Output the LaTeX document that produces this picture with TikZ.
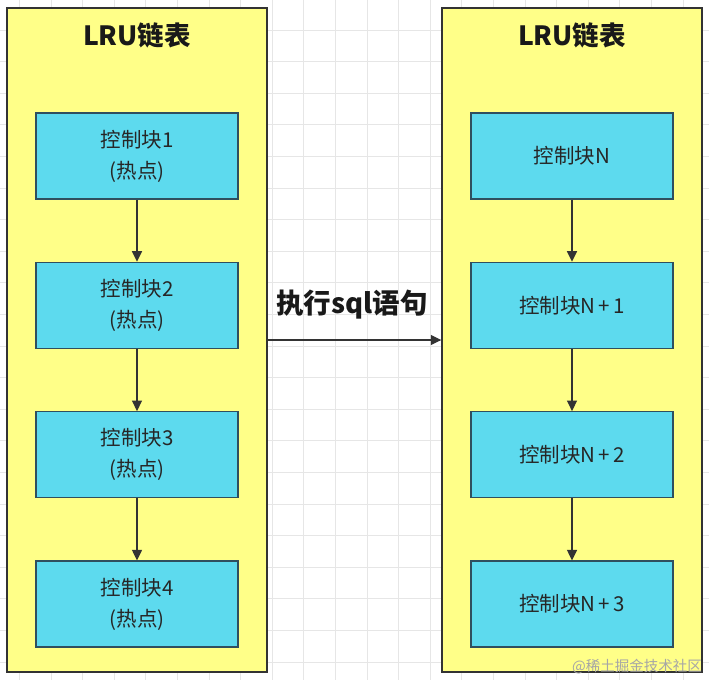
\documentclass[tikz,border=0pt]{standalone}
\usepackage{fontspec}
\newfontfamily\cjk{Noto Sans CJK SC}
\usetikzlibrary{arrows.meta}
\definecolor{cyellow}{HTML}{FFFF88}
\definecolor{ccyan}{HTML}{5DDAEE}
\definecolor{cblockline}{HTML}{2F4F5F}
\definecolor{cline}{HTML}{333333}
\definecolor{cgrid}{HTML}{E6E6E6}
\tikzset{
  gridline/.style={draw=cgrid, line width=0.9bp},
  container/.style={draw=cline, fill=cyellow, line width=1.4bp, minimum width=260bp, minimum height=664bp, inner sep=0pt},
  titletext/.style={font=\cjk\bfseries\fontsize{26.5bp}{30bp}\selectfont, text=black!90, inner sep=0pt},
  sqltext/.style={font=\cjk\bfseries\fontsize{27.5bp}{30bp}\selectfont, text=black!90, inner sep=0pt},
  block/.style={draw=cblockline, fill=ccyan, line width=1.2bp, minimum width=202bp, minimum height=86bp, inner sep=0pt, align=center, font=\cjk\fontsize{20.5bp}{31bp}\selectfont, text=black!85},
  arr/.style={draw=cline, line width=1.2bp, -{Triangle[length=10.5bp,width=10bp]}},
  wmark/.style={font=\cjk\fontsize{14.5bp}{16bp}\selectfont, text=black!35, inner sep=0pt}
}
\begin{document}
\begin{tikzpicture}[x=1bp,y=-1bp]
\useasboundingbox (0,0) rectangle (709,680);
\fill[white] (0,0) rectangle (709,680);
\foreach \i in {0,...,22} \draw[gridline] ({19.5+31.6*\i},0) -- ++(0,680);
\foreach \j in {0,...,21} \draw[gridline] (0,{30+31.6*\j}) -- ++(709,0);

% containers
\node[container] (L) at (137,340) {};
\node[container] (R) at (572,340) {};
\node[titletext] (LT) at (137,35) {LRU链表};
\node[titletext] (RT) at (572,35) {LRU链表};

% left blocks
\node[block] (L1) at (137,156) {控制块1\\(热点)};
\node[block] (L2) at (137,305.3) {控制块2\\(热点)};
\node[block] (L3) at (137,454.7) {控制块3\\(热点)};
\node[block] (L4) at (137,604) {控制块4\\(热点)};

% right blocks
\node[block] (R1) at (572,156) {控制块N};
\node[block] (R2) at (572,305.3) {控制块N{\,}+{\,}1};
\node[block] (R3) at (572,454.7) {控制块N{\,}+{\,}2};
\node[block] (R4) at (572,604) {控制块N{\,}+{\,}3};

\draw[arr] (L1) -- (L2);
\draw[arr] (L2) -- (L3);
\draw[arr] (L3) -- (L4);
\draw[arr] (R1) -- (R2);
\draw[arr] (R2) -- (R3);
\draw[arr] (R3) -- (R4);

\draw[arr] (L) -- (R);
\node[sqltext] (SQL) at (352,305) {执行sql语句};

\node[wmark] (W) at (637,667) {@稀土掘金技术社区};
\end{tikzpicture}
\end{document}
